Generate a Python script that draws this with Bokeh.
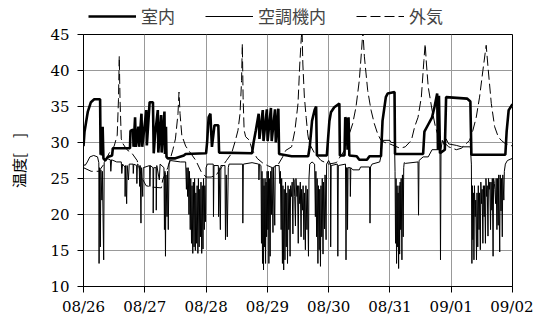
from bokeh.plotting import figure
from bokeh.layouts import column
from bokeh.models import Range1d, FixedTicker, Legend, LegendItem
from bokeh.embed import file_html
from bokeh.resources import INLINE

# ---- data (hours since 08/26 00:00) ----
DAY_LABELS = ["08/26", "08/27", "08/28", "08/29", "08/30", "08/31", "09/01", "09/02"]
DAY_TICKS = [0, 24, 48, 72, 96, 120, 144, 168]
Y_TICKS = [10, 15, 20, 25, 30, 35, 40, 45]
SERIES_NAMES = ["室内", "空調機内", "外気"]

room_t = [0, 0.4, 1.0, 1.7, 2.9, 4.2, 6.5, 6.7, 7.0, 7.2, 7.5, 7.8, 8.5, 9.5, 11.2, 11.5, 18.2, 18.4,
          19.4, 19.6, 20.2, 20.5, 21.5, 21.8, 22.7, 23.0, 24.6, 24.8, 25.9, 27.2, 27.5, 28.0, 29.1, 29.3,
          30.4, 30.6, 31.7, 31.9, 32.3, 32.5, 33.0, 36.0, 39.3, 40.0, 48.0, 48.4, 49.0, 49.7, 50.0, 50.3,
          51.3, 52.8, 53.1, 66.0, 66.6, 67.5, 68.6, 68.9, 70.2, 70.5, 71.8, 72.1, 73.4, 73.7, 75.0, 75.3,
          76.3, 76.6, 81.5, 88.0, 88.6, 89.5, 90.5, 91.1, 91.4, 95.3, 96.3, 96.9, 98.2, 100.2, 100.4,
          102.2, 102.5, 103.2, 103.4, 103.8, 104.1, 107.0, 108.0, 111.0, 112.0, 116.5, 117.1, 118.4,
          119.1, 121.8, 122.0, 133.0, 133.5, 135.0, 136.5, 137.5, 138.5, 138.8, 139.2, 139.6, 141.5,
          142.0, 150.2, 151.5, 151.9, 165.2, 165.7, 166.5, 168.0]
room_v = [29.5, 31.5, 32.8, 34.3, 35.6, 36.0, 36.0, 28.3, 31.8, 28.2, 32.2, 27.8, 27.5, 28.0, 28.2, 29.2, 29.2, 31.6,
          31.8, 29.4, 33.5, 29.4, 32.2, 29.4, 34.0, 29.4, 34.5, 29.6, 35.6, 35.6, 28.5, 31.0, 34.5, 28.6,
          33.8, 28.6, 34.3, 28.4, 32.2, 28.0, 27.8, 27.8, 28.2, 28.4, 28.5, 30.0, 33.5, 34.0, 31.5, 29.4,
          32.4, 32.4, 28.6, 28.5, 30.0, 31.7, 34.0, 30.5, 34.5, 30.2, 34.6, 30.2, 34.8, 30.2, 34.6, 30.0,
          34.7, 28.4, 28.1, 28.1, 29.4, 33.0, 34.5, 35.0, 28.2, 28.2, 33.0, 34.2, 34.9, 35.4, 28.2,
          28.2, 33.5, 33.0, 29.0, 33.5, 28.2, 28.1, 27.6, 27.6, 28.1, 28.1, 33.0, 36.3,
          36.8, 37.0, 28.4, 28.4, 31.5, 32.5, 33.5, 35.0, 36.8, 29.0, 36.5, 28.5, 29.0,
          36.3, 36.1, 35.7, 28.3, 28.3, 31.5, 34.5, 35.3]

ac_t = [0, 0.6, 1.5, 2.5, 4.0, 5.5, 6.0, 6.1, 6.3, 6.6, 6.8, 7.2, 7.4, 7.9, 8.1, 9.0, 10.5, 10.7, 11.0,
        13.0, 14.8, 15.0, 15.3, 16.2, 16.3, 16.5, 16.9, 17.1, 17.6, 17.9, 19.4, 19.5, 19.7, 20.8, 20.9,
        21.1, 21.8, 22.0, 22.2, 22.5, 22.7, 23.2, 23.4, 25.9, 26.0, 26.2, 27.2, 27.3, 27.5, 28.4, 28.5,
        28.7, 29.7, 30.0, 31.5, 31.7, 31.9, 32.1, 32.3, 32.7, 32.9, 33.2, 33.5, 34.0, 38.0, 40.0,
        40.3, 40.5, 40.8, 41.0, 41.3, 41.5, 41.8, 42.0, 42.3, 42.5, 42.8, 43.0, 43.3, 43.5, 43.8, 44.0,
        44.3, 44.5, 44.8, 45.0, 45.3, 45.5, 45.8, 46.0, 46.3, 46.5, 46.8, 47.0, 47.3, 47.5, 47.8, 48.0,
        48.5, 50.8, 50.9, 51.1, 52.8, 52.9, 53.1, 53.6, 53.8, 55.4, 55.6, 55.9, 56.3, 56.7, 57.0,
        62.3, 62.4, 62.6, 66.0, 68.6, 68.7, 68.9,
        69.5, 69.7, 69.9, 70.1, 70.3, 70.5, 70.7, 70.9, 71.1, 71.3, 71.5, 71.7, 71.9, 72.2, 72.4, 72.6,
        72.8, 73.1, 73.3, 73.6, 73.8, 74.2, 74.4, 74.9, 75.1,
        76.6, 76.9, 77.1, 77.4, 77.6, 77.9, 78.1, 78.4, 78.6, 78.9, 79.1, 79.4, 79.6, 79.9, 80.1, 80.4,
        80.6, 80.9, 81.1, 81.5, 81.7, 82.0, 82.2, 82.5, 82.7, 83.0, 83.2, 83.6, 83.8, 84.1, 84.3, 84.7,
        84.9, 85.2, 85.4, 85.8, 86.0, 86.3, 86.5, 86.9, 87.1, 87.5, 87.7, 88.1, 88.3, 88.6, 89.5,
        90.5, 90.8, 91.0, 91.3, 91.5, 91.8, 92.0, 92.3, 92.5, 92.8, 93.0, 93.3, 93.5, 93.8, 94.0, 94.4,
        94.6, 95.0, 95.2,
        96.0, 96.7, 96.8, 97.0, 99.4, 99.6, 99.8, 102.6, 102.8, 103.0, 103.3, 103.4, 103.6, 104.4,
        104.5, 104.7, 105.5, 108.0, 108.5, 112.0, 112.2, 112.4, 113.0, 116.0, 116.5, 117.0, 120.0,
        120.5, 121.8,
        122.0, 122.2, 122.4, 122.6, 122.8, 123.0, 123.2, 123.4, 123.6, 123.8, 124.0, 124.2, 124.4,
        124.7, 124.9, 125.2, 125.4, 125.6, 126.0, 131.0, 131.2, 131.4, 133.0, 135.0, 136.5, 139.6,
        139.8, 140.0, 140.5, 141.5, 142.0, 143.0, 146.0, 148.0, 151.5,
        151.9, 152.1, 152.3, 152.5, 152.7, 152.9, 153.1, 153.4, 153.6, 153.9, 154.1, 154.4, 154.6,
        154.9, 155.1, 155.4, 155.6, 155.9, 156.1, 156.4, 156.6, 156.9, 157.1, 157.4, 157.6, 157.9,
        158.1, 158.4, 158.6, 158.9, 159.1, 159.4, 159.6, 159.9, 160.1, 160.4, 160.6, 160.9, 161.1,
        161.4, 161.6, 161.9, 162.1, 162.4, 162.6, 163.0, 163.2, 163.5, 163.7, 164.0, 164.2, 164.6,
        164.8, 165.2, 166.0, 168.0]
ac_v = [27.0, 26.8, 27.3, 28.0, 28.2, 28.0, 27.2, 13.2, 26.5, 15.5, 26.2, 22.0, 26.0, 13.7, 27.2, 27.8, 27.6, 26.0, 27.6,
        27.3, 27.3, 25.7, 27.0, 26.6, 22.5, 26.8, 21.5, 26.8, 24.8, 27.0, 27.0, 25.7, 27.0, 26.8, 24.3,
        27.0, 26.8, 23.9, 26.8, 18.8, 26.5, 22.5, 26.5, 26.8, 23.9, 26.8, 26.5, 20.2, 26.5, 26.5, 20.6,
        26.8, 24.8, 27.0, 26.5, 17.9, 26.0, 14.2, 25.5, 19.7, 26.0, 17.9, 27.0, 27.5, 27.3, 27.3,
        23.5, 26.5, 22.5, 26.5, 20.0, 26.0, 17.9, 25.0, 16.0, 24.0, 14.6, 24.5, 15.5, 25.0, 15.0, 23.0,
        16.0, 24.0, 14.6, 25.0, 15.5, 23.5, 16.9, 24.5, 14.6, 24.0, 15.2, 25.0, 17.9, 24.0, 19.0, 26.5,
        27.0, 27.0, 19.7, 26.8, 26.8, 19.7, 26.5, 17.9, 26.8, 26.8, 16.5, 25.5, 16.9, 26.5, 27.0,
        27.0, 18.8, 27.0, 27.2, 27.0, 24.8, 27.0,
        26.8, 16.0, 26.0, 13.2, 25.0, 12.3, 24.0, 15.5, 25.0, 13.2, 24.5, 16.9, 26.0, 17.9, 26.0, 13.2,
        25.0, 14.2, 26.0, 20.0, 26.5, 17.5, 26.5, 18.5, 26.8,
        26.8, 24.3, 26.0, 17.9, 25.0, 13.2, 24.0, 12.3, 23.5, 13.7, 24.5, 15.5, 23.0, 13.2, 24.0, 17.9,
        23.5, 14.2, 24.0, 22.5, 24.5, 17.3, 25.0, 24.8, 22.5, 18.4, 25.0, 22.5, 24.0, 16.0, 24.0, 21.5,
        24.5, 16.9, 23.5, 20.6, 24.0, 16.5, 23.0, 15.1, 24.0, 17.9, 23.5, 14.2, 25.0, 27.0, 27.3,
        27.0, 19.7, 26.0, 16.9, 25.0, 13.2, 24.0, 15.1, 23.5, 12.8, 24.0, 16.9, 25.0, 14.5, 24.5, 18.0,
        25.5, 16.5, 27.0,
        27.5, 27.0, 15.5, 26.8, 27.0, 14.2, 26.8, 27.0, 13.7, 26.5, 26.5, 17.9, 26.5, 26.5,
        22.5, 26.5, 26.2, 26.2, 26.6, 26.6, 18.8, 26.6, 27.0, 27.3, 28.1, 30.3, 30.3,
        30.0, 30.0,
        26.0, 16.0, 25.0, 13.2, 24.0, 15.5, 23.0, 12.5, 24.0, 14.5, 24.5, 17.9, 25.0,
        13.7, 25.5, 16.9, 26.5, 27.2, 27.1, 27.3, 19.9, 27.5, 28.0, 28.0, 29.0, 29.0,
        13.7, 29.0, 30.3, 29.5, 30.5, 29.8, 29.6, 29.4, 29.4,
        27.0, 13.2, 24.0, 16.5, 23.0, 13.7, 24.0, 19.7, 22.0, 13.7, 23.0, 15.5, 24.0,
        17.9, 23.0, 15.1, 24.5, 21.5, 23.5, 16.0, 24.0, 19.7, 24.0, 16.0, 25.0, 22.5,
        24.0, 17.0, 25.0, 23.5, 24.5, 17.9, 24.5, 20.6, 25.0, 14.2, 25.0, 24.3, 23.5,
        21.5, 25.0, 17.9, 25.0, 18.5, 25.5, 14.8, 25.5, 20.5, 25.0, 16.9, 25.5, 22.0,
        26.0, 27.0, 27.5, 27.8]

out_t = [0, 3, 6, 8, 10, 12, 13.2, 13.7, 14.0, 14.3, 14.8, 15.5, 17, 19, 21, 23, 24.5, 27, 30.5, 31,
         33, 35, 36, 37, 37.4, 37.8, 38.5, 40, 42, 44, 46, 48, 50, 52, 54, 56, 58, 59.5, 60.5, 61.3,
         61.9, 62.2, 62.5, 62.9, 63.5, 65, 66, 68, 70, 72, 74, 76, 78, 79.2, 81.5, 82.8, 84, 84.7, 85.3,
         85.6, 85.9, 86.5, 87.2, 87.8, 88.4, 90.5, 93, 96, 99, 102.2, 104.1, 105.4, 106.7, 108, 108.9,
         109.4, 110, 111.3, 112.6, 113.9, 115.2, 116.5, 118, 120, 122, 124, 126, 128.4, 129.7, 131,
         132.3, 133.3, 133.8, 134.3, 135, 136.5, 137.8, 139, 140.3, 143, 146, 148, 151.2, 152.5, 153.8,
         155.1, 156.4, 157.7, 158.4, 159.7, 161, 162.4, 163.6, 165, 168]
out_v = [26.5, 26.0, 26.0, 27.0, 28.5, 29.5, 31.0, 36.0, 42.0, 36.0, 30.5, 29.8, 29.0, 28.5, 27.5, 25.0, 24.0, 23.8, 23.7, 24.8,
         26.5, 29.0, 30.5, 34.0, 37.0, 34.0, 31.0, 29.5, 28.5, 27.5, 26.0, 25.2, 25.2, 25.5, 26.5, 27.5, 28.5, 30.3, 31.7, 34.0,
         38.6, 43.7, 36.3, 31.7, 30.8, 30.3, 29.0, 27.8, 27.2, 26.8, 26.5, 26.8, 28.0, 28.9, 29.4, 31.7, 35.4, 40.9, 44.6,
         45.5, 40.9, 36.3, 33.5, 31.2, 29.9, 28.5, 27.5, 27.0, 27.2, 28.9, 31.2, 32.6, 34.9, 38.6, 42.8,
         45.5, 41.9, 37.2, 34.5, 32.6, 31.2, 30.3, 30.0, 29.8, 29.5, 29.2, 29.4, 30.3, 32.2, 33.5,
         36.3, 41.4, 43.7, 40.9, 37.7, 34.5, 32.2, 30.8, 30.3, 29.4, 29.0, 29.2, 30.3, 31.7, 33.5,
         36.3, 40.0, 43.5, 40.5, 35.4, 32.2, 30.8, 30.3, 29.9, 29.5]

ROOM_STYLE = dict(line_color="black", line_width=2.6)
AC_STYLE = dict(line_color="black", line_width=1)
OUT_STYLE = dict(line_color="black", line_width=1, line_dash="10 4")
NAN = float("nan")

# ---- main chart ----
p = figure(width=533, height=294, output_backend="svg", toolbar_location=None,
           x_range=Range1d(0, 168), y_range=Range1d(10, 45),
           min_border_left=83, min_border_right=21, min_border_top=7, min_border_bottom=35)

p.line(out_t, out_v, **OUT_STYLE)
p.line(ac_t, ac_v, **AC_STYLE)
p.line(room_t, room_v, **ROOM_STYLE)

p.xaxis.ticker = FixedTicker(ticks=DAY_TICKS)
p.xaxis.major_label_overrides = {t: lab for t, lab in zip(DAY_TICKS, DAY_LABELS)}
p.yaxis.ticker = FixedTicker(ticks=Y_TICKS)
p.xgrid.ticker = FixedTicker(ticks=DAY_TICKS)
p.ygrid.ticker = FixedTicker(ticks=Y_TICKS)

for ax in (p.xaxis[0], p.yaxis[0]):
    ax.major_label_text_font = "DejaVu Serif"
    ax.major_label_text_font_size = "15px"
    ax.major_label_text_color = "black"
    ax.axis_line_color = "black"
    ax.major_tick_line_color = "black"
    ax.major_tick_in = 0
    ax.major_tick_out = 6
    ax.minor_tick_line_color = None
p.xaxis.major_label_standoff = 5
p.yaxis.major_label_standoff = 8

p.yaxis.axis_label = "温度[　]"
p.yaxis.axis_label_text_font = "Noto Sans CJK JP"
p.yaxis.axis_label_text_font_size = "15px"
p.yaxis.axis_label_text_font_style = "normal"
p.yaxis.axis_label_text_color = "black"
p.yaxis.axis_label_standoff = 18

p.xgrid.grid_line_color = "#999999"
p.ygrid.grid_line_color = "#999999"
p.outline_line_color = "black"
p.outline_line_width = 1
p.background_fill_color = "white"
p.border_fill_color = "white"

# ---- legend strip above the chart ----
lf = figure(width=533, height=27, output_backend="svg", toolbar_location=None,
            x_range=Range1d(0, 1), y_range=Range1d(0, 1), min_border=0)
lf.axis.visible = False
lf.grid.visible = False
lf.outline_line_color = None
lf.border_fill_color = "white"
lf.background_fill_color = "white"
lr_room = lf.line([NAN], [NAN], **ROOM_STYLE)
lr_ac = lf.line([NAN], [NAN], **AC_STYLE)
lr_out = lf.line([NAN], [NAN], **OUT_STYLE)
legend = Legend(items=[LegendItem(label=SERIES_NAMES[0], renderers=[lr_room]),
                       LegendItem(label=SERIES_NAMES[1], renderers=[lr_ac]),
                       LegendItem(label=SERIES_NAMES[2], renderers=[lr_out])],
                location=(5, -1), orientation="horizontal",
                glyph_width=48, glyph_height=16, label_standoff=5, spacing=30,
                padding=0, margin=0, border_line_color=None, background_fill_alpha=0,
                label_text_font="Noto Sans CJK JP", label_text_font_size="17px",
                label_height=20)
lf.add_layout(legend)

open("out.html", "w").write(file_html(column(lf, p, spacing=0), INLINE))
